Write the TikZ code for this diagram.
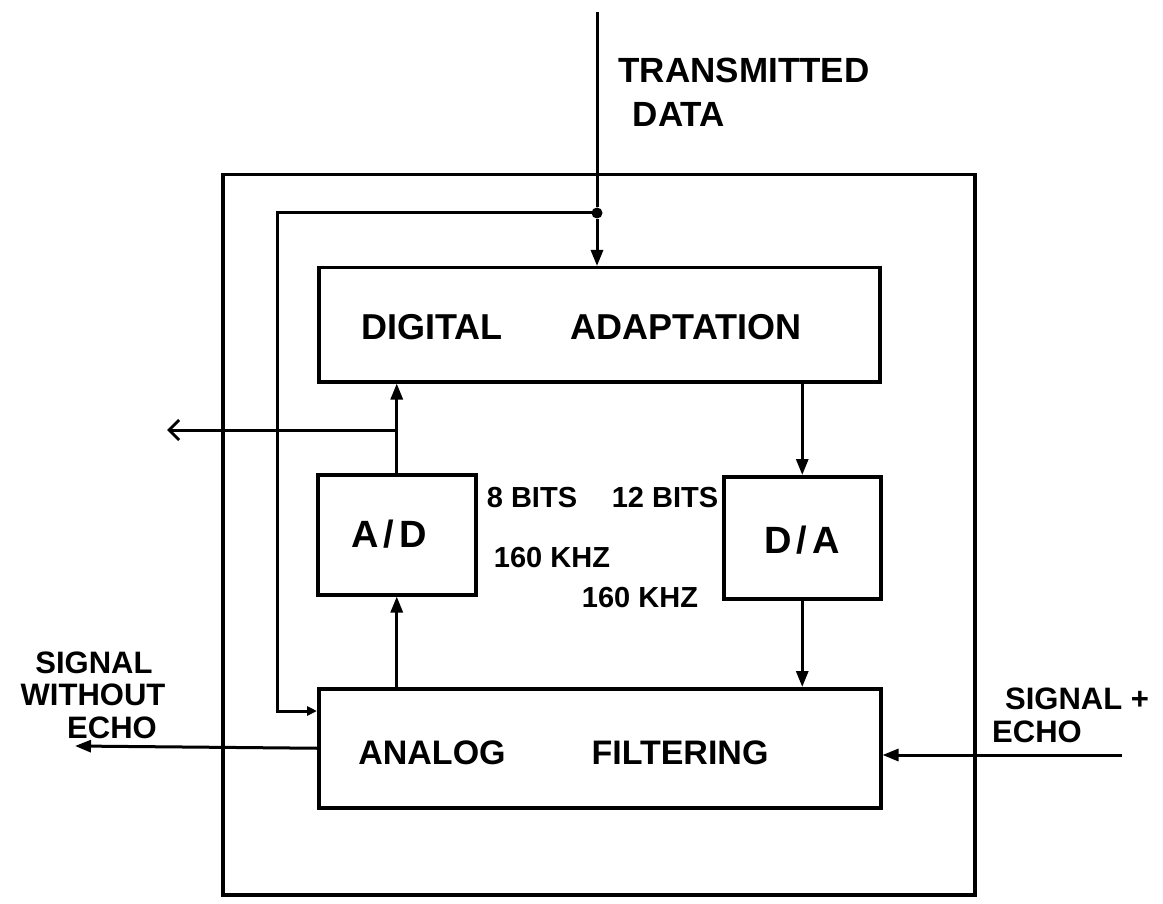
\documentclass[tikz,border=0pt]{standalone}
\usepackage{fontspec}
\setmainfont{Liberation Sans}
\usetikzlibrary{arrows.meta}
\begin{document}
\begin{tikzpicture}[x=1pt,y=-1pt,
  blk/.style={draw, line width=3.5pt, inner sep=0pt, anchor=north west},
  wire/.style={line width=3pt},
  arr/.style={wire, -{Triangle[length=16pt,width=12pt]}},
  smallarr/.style={wire, -{Triangle[length=10pt,width=9pt]}},
  barb/.style={wire, -{Straight Barb[length=10pt,width=20pt,line width=3pt]}},
  lbl/.style={inner sep=0pt, anchor=base, font=\bfseries\fontsize{#1}{#1}\selectfont},
  lbl/.default=34]
\useasboundingbox (0,0) rectangle (1163,904);
% boxes
\node[blk, minimum width=752pt, minimum height=720pt] (outer) at (221,173) {};
\node[blk, minimum width=561pt, minimum height=114pt] (da) at (317,266) {};
\node[blk, minimum width=158pt, minimum height=120pt] (ad) at (316,473) {};
\node[blk, minimum width=157pt, minimum height=122pt] (dac) at (722,475) {};
\node[blk, minimum width=562pt, minimum height=119pt] (af) at (317,687) {};
% helper coordinates
\coordinate (tdtop) at (597,12);
\node[circle, fill, inner sep=0pt, minimum size=11pt] (jn) at (597,213) {};
\coordinate (fb1) at (277,213);
\coordinate (fb2) at (277,711);
\coordinate (br) at (ad.north |- 0,430);
\coordinate (tap) at (167,430);
\coordinate (swe) at (75,746);
\coordinate (spe) at (1122,755);
% connectors
\draw[wire] (tdtop) -- (jn);
\draw[arr] (jn) -- (jn |- da.north);
\draw[smallarr] (jn.center) -- (fb1) -- (fb2) -- (fb2 -| af.west);
\draw[arr] (ad.south |- af.north) -- (ad.south);
\draw[arr] (ad.north) -- (ad.north |- da.south);
\draw[barb] (br) -- (tap);
\draw[arr] (dac.north |- da.south) -- (dac.north);
\draw[arr] (dac.south) -- (dac.south |- af.north);
\draw[arr] (af.west) -- (swe);
\draw[arr] (spe) -- (spe -| af.east);
% labels
\node[lbl=35] (t1) at (744,83) {TRANSMITTED};
\node[lbl=35] (t2) at (679,127) {DATA};
\node[lbl=36] (t3) at (432,340) {DIGITAL};
\node[lbl=36] (t4) at (686,340) {ADAPTATION};
\node[lbl=38] (t5) at (389,547) {A\hspace{5pt}/\hspace{5pt}D};
\node[lbl=38] (t6) at (802,553) {D\hspace{5pt}/\hspace{5pt}A};
\node[lbl=29] (t7) at (532,507) {8 BITS};
\node[lbl=29] (t8) at (665,507) {12 BITS};
\node[lbl=29] (t9) at (552,567) {160 KHZ};
\node[lbl=29] (t10) at (640,607) {160 KHZ};
\node[lbl=34] (t11) at (432,764) {ANALOG};
\node[lbl=34] (t12) at (680,764) {FILTERING};
\node[lbl=31] (t13) at (94,673) {SIGNAL};
\node[lbl=31] (t14) at (93,705) {WITHOUT};
\node[lbl=31] (t15) at (112,738) {ECHO};
\node[lbl=31] (t16) at (1077,709) {SIGNAL +};
\node[lbl=31] (t17) at (1037,742) {ECHO};
\end{tikzpicture}
\end{document}
